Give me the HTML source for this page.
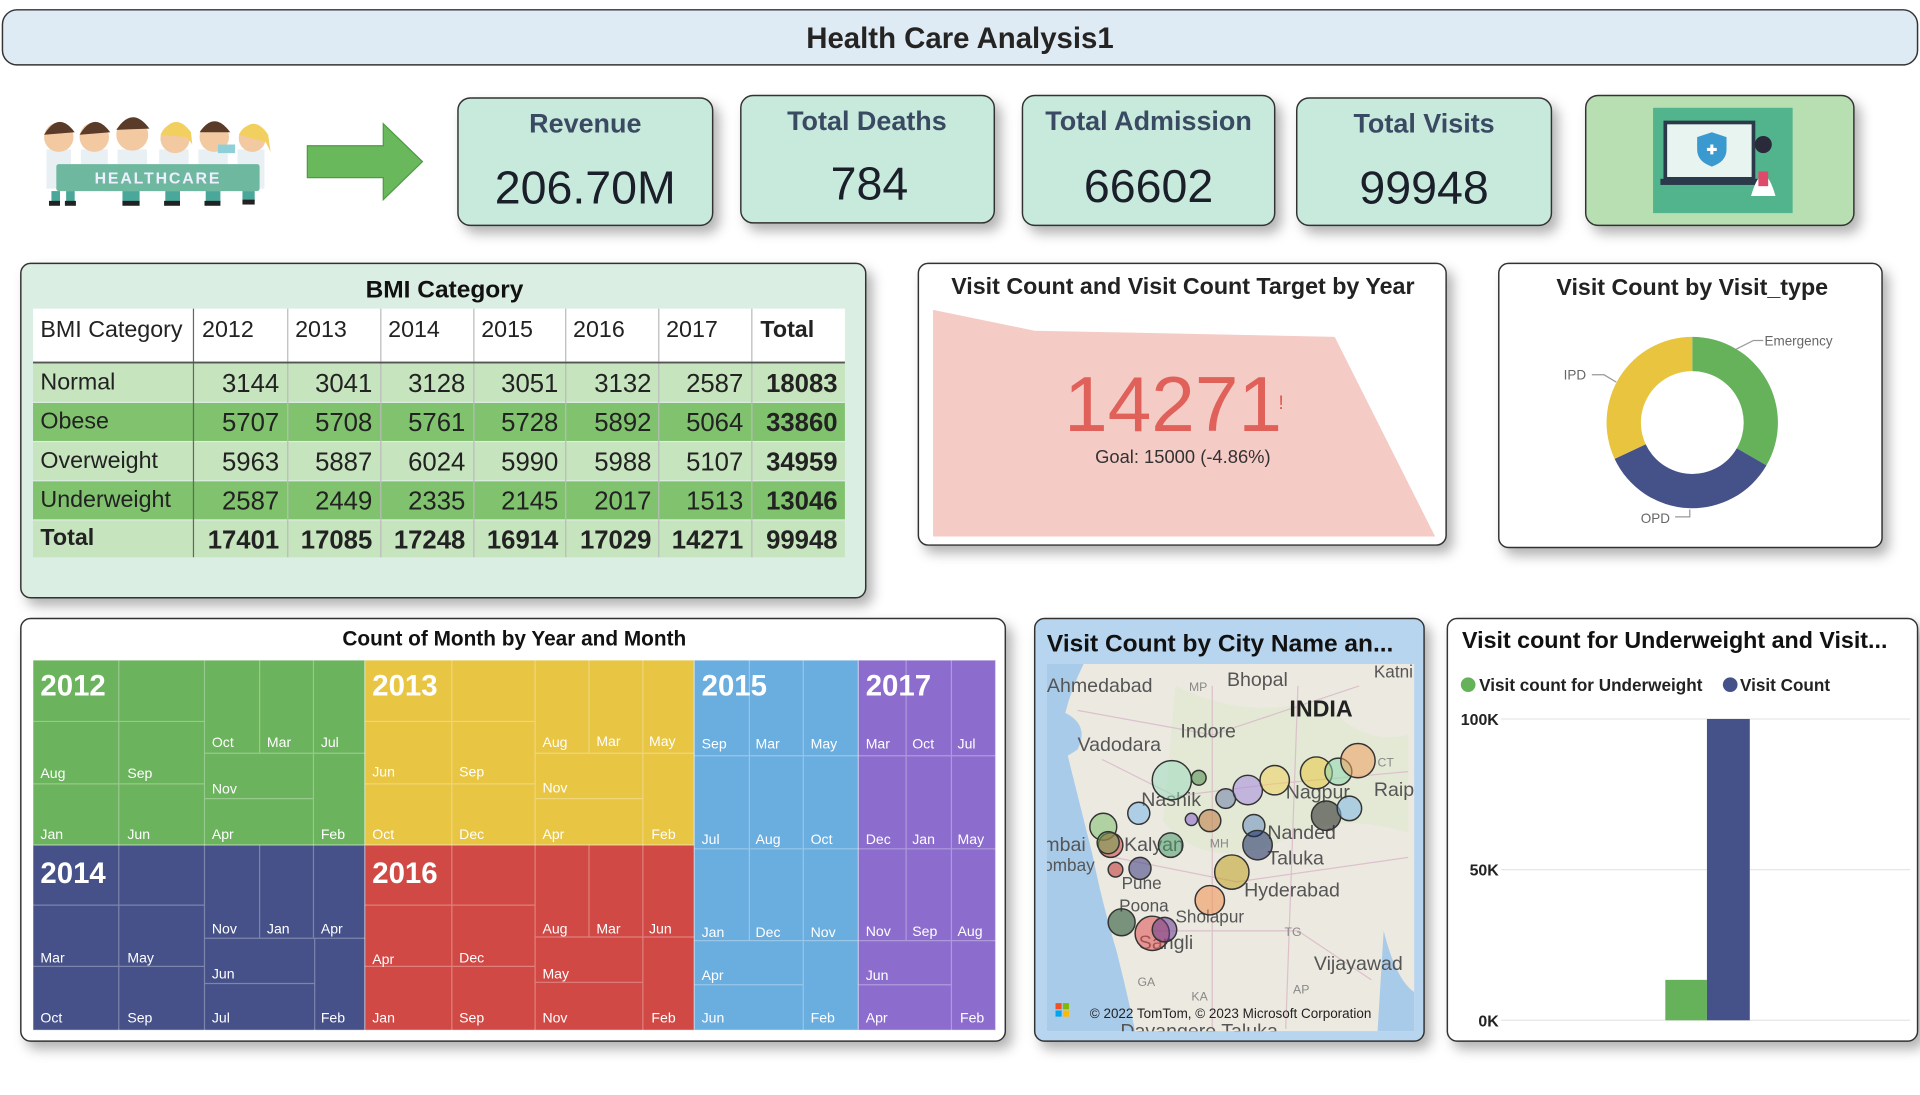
<!DOCTYPE html>
<html><head><meta charset="utf-8"><style>
html,body{margin:0;padding:0;background:#fff;width:1920px;height:1095px;overflow:hidden}
svg text{font-family:"Liberation Sans",sans-serif}
</style></head><body>
<svg width="1920" height="1095" viewBox="0 0 1568 894" preserveAspectRatio="none" xmlns="http://www.w3.org/2000/svg">
<defs>
<filter id="sh" x="-10%" y="-10%" width="130%" height="140%"><feDropShadow dx="5" dy="6" stdDeviation="5" flood-color="#000" flood-opacity="0.3"/></filter>
<clipPath id="mapc"><rect x="855" y="542" width="300" height="300"/></clipPath>
</defs>
<!-- title -->
<rect x="2" y="8" width="1564" height="45" rx="12" fill="#deeaf4" stroke="#333" stroke-width="1.2"/>
<text x="784" y="39" text-anchor="middle" font-size="24" font-weight="bold" fill="#252423">Health Care Analysis1</text>

<!-- healthcare image -->
<g>
<g fill="#e8f0f4"><rect x="38" y="122" width="20" height="32"/><rect x="66" y="122" width="22" height="32"/><rect x="96" y="122" width="24" height="32"/><rect x="130" y="122" width="24" height="32"/><rect x="162" y="122" width="24" height="32"/><rect x="194" y="122" width="22" height="32"/></g>
<g fill="#f2c9a0">
<circle cx="48" cy="112" r="12"/><circle cx="77" cy="112" r="12"/><circle cx="108" cy="110" r="13"/><circle cx="143" cy="113" r="12"/><circle cx="175" cy="112" r="12"/><circle cx="206" cy="113" r="11"/>
</g>
<path d="M36 110 q12-20 25 -2z M65 110 q12-20 25 -2z M95 106 q13-20 27 -1z M163 108 q12-18 25 0z" fill="#5a3a28"/>
<path d="M131 110 q12-20 25 -2l1 10 -4-6z M195 110 q12-18 24 0 l2 14 -4-8z" fill="#f2d060"/>
<rect x="178" y="118" width="14" height="7" fill="#8fd0d8"/>
<rect x="46" y="134" width="166" height="22" fill="#6fb8a0" rx="2"/>
<text x="129" y="150" text-anchor="middle" font-size="13" font-weight="bold" fill="#eef" letter-spacing="1.5">HEALTHCARE</text>
<g fill="#4aa89a"><rect x="42" y="156" width="7" height="10"/><rect x="54" y="156" width="7" height="10"/><rect x="100" y="156" width="14" height="10"/><rect x="135" y="156" width="12" height="10"/><rect x="168" y="156" width="12" height="10"/><rect x="198" y="156" width="10" height="8"/></g>
<g fill="#222"><rect x="40" y="164" width="9" height="4"/><rect x="53" y="164" width="9" height="4"/><rect x="100" y="164" width="14" height="4"/><rect x="134" y="164" width="13" height="4"/><rect x="167" y="164" width="13" height="4"/><rect x="198" y="163" width="10" height="4"/></g>
</g>
<!-- arrow -->
<polygon points="251,119 313,119 313,101 345,132 313,163 313,145 251,145" fill="#6ab85c" stroke="#4e9a44" stroke-width="1"/>

<!-- KPI cards -->
<g filter="url(#sh)" stroke="#333" stroke-width="1.2" fill="#c8eadc">
<rect x="374" y="80" width="208" height="104" rx="10"/>
<rect x="605" y="78" width="207" height="104" rx="10"/>
<rect x="835" y="78" width="206" height="106" rx="10"/>
<rect x="1059" y="80" width="208" height="104" rx="10"/>
<rect x="1295" y="78" width="219" height="106" rx="10" fill="#b8dfb2"/>
</g>
<g font-size="22" font-weight="bold" fill="#3a4a63" text-anchor="middle">
<text x="478" y="108">Revenue</text><text x="708" y="106">Total Deaths</text><text x="938" y="106">Total Admission</text><text x="1163" y="108">Total Visits</text>
</g>
<g font-size="38" fill="#1a1f2a" text-anchor="middle">
<text x="478" y="166">206.70M</text><text x="710" y="163">784</text><text x="938" y="165">66602</text><text x="1163" y="166">99948</text>
</g>
<rect x="1350" y="88" width="114" height="86" fill="#52b48c"/>
<rect x="1360" y="100" width="72" height="46" fill="#e8f4f0" stroke="#2a3a4a" stroke-width="3"/>
<rect x="1356" y="146" width="80" height="5" fill="#2a3a4a"/>
<path d="M1398 108 l12 4 v10 q0 10 -12 14 q-12-4 -12-14 v-10z" fill="#3a9ad0"/>
<path d="M1394 122 h8 M1398 118 v8" stroke="#fff" stroke-width="2.5"/>
<circle cx="1440" cy="118" r="7" fill="#2a2a3a"/><path d="M1430 160 q10-34 20 0z" fill="#fff"/><rect x="1436" y="140" width="8" height="12" fill="#e04a6a"/>

<!-- BMI card -->
<rect x="17" y="215" width="690" height="273" rx="8" fill="#dbeee4" stroke="#333" stroke-width="1.2" filter="url(#sh)"/>
<text x="363" y="243" text-anchor="middle" font-size="20" font-weight="bold" fill="#111">BMI Category</text>
<rect x="27" y="252" width="663" height="43" fill="#fff"/>
<rect x="27" y="297" width="663" height="31" fill="#c6e4bd"/>
<rect x="27" y="329" width="663" height="31" fill="#80c26e"/>
<rect x="27" y="361" width="663" height="31" fill="#c6e4bd"/>
<rect x="27" y="393" width="663" height="31" fill="#80c26e"/>
<rect x="27" y="425" width="663" height="30" fill="#c6e4bd"/>
<g stroke="#bbb" stroke-width="1">
<line x1="235" y1="252" x2="235" y2="455"/><line x1="311" y1="252" x2="311" y2="455"/><line x1="387" y1="252" x2="387" y2="455"/><line x1="462" y1="252" x2="462" y2="455"/><line x1="538" y1="252" x2="538" y2="455"/><line x1="614" y1="252" x2="614" y2="455"/>
</g>
<line x1="158" y1="252" x2="158" y2="455" stroke="#666"/>
<line x1="27" y1="296" x2="690" y2="296" stroke="#555" stroke-width="1.5"/>
<g font-size="19" fill="#222">
<text x="33" y="275">BMI Category</text><text x="165" y="275">2012</text><text x="241" y="275">2013</text><text x="317" y="275">2014</text><text x="393" y="275">2015</text><text x="468" y="275">2016</text><text x="544" y="275">2017</text><text x="621" y="275" font-weight="bold">Total</text>
<text x="33" y="318">Normal</text><text x="33" y="350">Obese</text><text x="33" y="382">Overweight</text><text x="33" y="414">Underweight</text><text x="33" y="445" font-weight="bold">Total</text>
</g>
<g font-size="21" fill="#222" text-anchor="end">
<text x="228" y="320">3144</text><text x="304" y="320">3041</text><text x="380" y="320">3128</text><text x="456" y="320">3051</text><text x="532" y="320">3132</text><text x="607" y="320">2587</text><text x="684" y="320" font-weight="bold">18083</text>
<text x="228" y="352">5707</text><text x="304" y="352">5708</text><text x="380" y="352">5761</text><text x="456" y="352">5728</text><text x="532" y="352">5892</text><text x="607" y="352">5064</text><text x="684" y="352" font-weight="bold">33860</text>
<text x="228" y="384">5963</text><text x="304" y="384">5887</text><text x="380" y="384">6024</text><text x="456" y="384">5990</text><text x="532" y="384">5988</text><text x="607" y="384">5107</text><text x="684" y="384" font-weight="bold">34959</text>
<text x="228" y="416">2587</text><text x="304" y="416">2449</text><text x="380" y="416">2335</text><text x="456" y="416">2145</text><text x="532" y="416">2017</text><text x="607" y="416">1513</text><text x="684" y="416" font-weight="bold">13046</text>
<g font-weight="bold"><text x="228" y="448">17401</text><text x="304" y="448">17085</text><text x="380" y="448">17248</text><text x="456" y="448">16914</text><text x="532" y="448">17029</text><text x="607" y="448">14271</text><text x="684" y="448">99948</text></g>
</g>

<!-- target card -->
<rect x="750" y="215" width="431" height="230" rx="8" fill="#fff" stroke="#333" stroke-width="1.2" filter="url(#sh)"/>
<text x="966" y="240" text-anchor="middle" font-size="19" font-weight="bold" fill="#222">Visit Count and Visit Count Target by Year</text>
<polygon points="762,253 845,270 1090,275 1172,438 762,438" fill="#f5cbc6"/>
<text x="958" y="352" text-anchor="middle" font-size="64" fill="#e0615a">14271</text>
<text x="1044" y="334" font-size="16" fill="#de5a52">!</text>
<text x="966" y="378" text-anchor="middle" font-size="15" fill="#333">Goal: 15000 (-4.86%)</text>

<!-- donut card -->
<rect x="1224" y="215" width="313" height="232" rx="8" fill="#fff" stroke="#333" stroke-width="1.2" filter="url(#sh)"/>
<text x="1382" y="241" text-anchor="middle" font-size="19" font-weight="bold" fill="#222">Visit Count by Visit_type</text>
<g transform="translate(1382,345)">
<path d="M0 -70 A70 70 0 0 1 60.6 35 L36.4 21 A42 42 0 0 0 0 -42Z" fill="#66b25a"/>
<path d="M60.6 35 A70 70 0 0 1 -63.4 29.6 L-38 17.7 A42 42 0 0 0 36.4 21Z" fill="#455189"/>
<path d="M-63.4 29.6 A70 70 0 0 1 0 -70 L0 -42 A42 42 0 0 0 -38 17.7Z" fill="#e8c43f"/>
</g>
<g stroke="#999" fill="none"><path d="M1418 285 l14 -7 h8"/><path d="M1300 306 h10 l10 6"/><path d="M1368 422 h12 v-6"/></g>
<g font-size="11" fill="#666"><text x="1441" y="282">Emergency</text><text x="1277" y="310">IPD</text><text x="1340" y="427">OPD</text></g>

<!-- treemap card -->
<rect x="17" y="505" width="804" height="345" rx="8" fill="#fff" stroke="#333" stroke-width="1.2" filter="url(#sh)"/>
<text x="420" y="527" text-anchor="middle" font-size="17" font-weight="bold" fill="#111">Count of Month by Year and Month</text>
<g stroke="#fff" stroke-opacity="0.35" stroke-width="1">
<rect x="27" y="539" width="271" height="151" fill="#6bb35c"/>
<rect x="298" y="539" width="269" height="151" fill="#e8c542"/>
<rect x="27" y="690" width="271" height="151" fill="#455188"/>
<rect x="298" y="690" width="269" height="151" fill="#d14945"/>
<rect x="567" y="539" width="134" height="302" fill="#6aaee0"/>
<rect x="701" y="539" width="112" height="302" fill="#8c6dcd"/>
</g>
<g stroke="#fff" stroke-opacity="0.3" stroke-width="1" fill="none">
<path d="M97 539V690M167 539V690M27 589H167M27 640H167M212 539V615M256 539V690M167 615H298M167 652H256"/>
<path d="M97 690V841M167 690V841M27 739H167M27 789H167M212 690V766M256 690V766M167 766H298M167 803H257M257 766V841"/>
<path d="M369 539V690M437 539V690M298 589H437M298 640H437M481 539V615M525 539V690M437 615H567M437 652H525"/>
<path d="M369 690V841M437 690V841M298 739H437M298 789H437M481 690V765M525 690V841M437 765H567M437 802H525"/>
<path d="M612 539V768M656 539V841M567 617H701M567 693H701M567 768H701M567 804H656"/>
<path d="M740 539V768M777 539V841M701 617H813M701 693H813M701 768H813M701 804H777"/>
</g>
<g font-size="24" font-weight="bold" fill="#fff"><text x="33" y="568">2012</text><text x="304" y="568">2013</text><text x="33" y="721">2014</text><text x="304" y="721">2016</text><text x="573" y="568">2015</text><text x="707" y="568">2017</text></g>
<g font-size="11.5" fill="#fff">
<text x="33" y="635">Aug</text><text x="104" y="635">Sep</text><text x="33" y="685">Jan</text><text x="104" y="685">Jun</text><text x="173" y="610">Oct</text><text x="218" y="610">Mar</text><text x="262" y="610">Jul</text><text x="173" y="648">Nov</text><text x="173" y="685">Apr</text><text x="262" y="685">Feb</text>
<text x="304" y="634">Jun</text><text x="375" y="634">Sep</text><text x="304" y="685">Oct</text><text x="375" y="685">Dec</text><text x="443" y="610">Aug</text><text x="487" y="609">Mar</text><text x="530" y="609">May</text><text x="443" y="647">Nov</text><text x="443" y="685">Apr</text><text x="532" y="685">Feb</text>
<text x="33" y="786">Mar</text><text x="104" y="786">May</text><text x="33" y="835">Oct</text><text x="104" y="835">Sep</text><text x="173" y="762">Nov</text><text x="218" y="762">Jan</text><text x="262" y="762">Apr</text><text x="173" y="799">Jun</text><text x="173" y="835">Jul</text><text x="262" y="835">Feb</text>
<text x="304" y="787">Apr</text><text x="375" y="786">Dec</text><text x="304" y="835">Jan</text><text x="375" y="835">Sep</text><text x="443" y="762">Aug</text><text x="487" y="762">Mar</text><text x="530" y="762">Jun</text><text x="443" y="799">May</text><text x="443" y="835">Nov</text><text x="532" y="835">Feb</text>
<text x="573" y="611">Sep</text><text x="617" y="611">Mar</text><text x="662" y="611">May</text><text x="573" y="689">Jul</text><text x="617" y="689">Aug</text><text x="662" y="689">Oct</text><text x="573" y="765">Jan</text><text x="617" y="765">Dec</text><text x="662" y="765">Nov</text><text x="573" y="800">Apr</text><text x="573" y="835">Jun</text><text x="662" y="835">Feb</text>
<text x="707" y="611">Mar</text><text x="745" y="611">Oct</text><text x="782" y="611">Jul</text><text x="707" y="689">Dec</text><text x="745" y="689">Jan</text><text x="782" y="689">May</text><text x="707" y="764">Nov</text><text x="745" y="764">Sep</text><text x="782" y="764">Aug</text><text x="707" y="800">Jun</text><text x="707" y="835">Apr</text><text x="784" y="835">Feb</text>
</g>

<!-- map card -->
<rect x="845" y="505" width="318" height="345" rx="8" fill="#b7d5ef" stroke="#333" stroke-width="1.2" filter="url(#sh)"/>
<text x="855" y="532" font-size="20" font-weight="bold" fill="#111">Visit Count by City Name an...</text>
<g clip-path="url(#mapc)">
<rect x="855" y="542" width="300" height="300" fill="#ece9e0"/>
<path d="M960 560 q60 30 120 10 q30 40 70 30 v80 q-60 -20 -110 10 q-60 20 -90 -20z" fill="#dfe8d0" opacity="0.7"/>
<path d="M855 542 h30 q-10 20 -15 40 q20 10 10 30 l-8 5 q10 40 20 80 q8 40 20 80 q10 40 15 65 H855Z" fill="#a9cbea"/>
<path d="M1130 760 q10 40 25 50 V842 h-30z" fill="#a9cbea"/>
<g stroke="#d9b7c8" stroke-width="1" fill="none" opacity="0.8">
<path d="M880 580 L990 600 L1110 560"/><path d="M900 620 L960 650 L1040 640 L1150 630"/><path d="M910 700 L1010 720 L1150 700"/><path d="M940 760 L1060 760 L1120 800"/><path d="M990 560 L990 840"/><path d="M1060 560 L1050 840"/>
</g>
<g font-size="16" fill="#555">
<text x="855" y="565">Ahmedabad</text><text x="1002" y="560">Bhopal</text><text x="1122" y="553" font-size="14">Katni</text><text x="964" y="602">Indore</text><text x="880" y="613">Vadodara</text><text x="932" y="658">Nashik</text><text x="1050" y="652">Nagpur</text><text x="1122" y="650">Raip</text><text x="1035" y="685">Nanded</text><text x="918" y="695">Kalyan</text><text x="852" y="695">mbai</text><text x="852" y="711" font-size="14">ombay</text><text x="1035" y="706">Taluka</text><text x="916" y="726" font-size="14">Pune</text><text x="1016" y="732">Hyderabad</text><text x="914" y="744" font-size="14">Poona</text><text x="960" y="753" font-size="14">Sholapur</text><text x="930" y="775">Sangli</text><text x="1073" y="792">Vijayawad</text><text x="915" y="847">Davangere Taluka</text>
</g>
<text x="1053" y="585" font-size="19" font-weight="bold" fill="#222">INDIA</text>
<g font-size="10" fill="#888"><text x="971" y="564">MP</text><text x="988" y="692">MH</text><text x="1049" y="764">TG</text><text x="929" y="805">GA</text><text x="1056" y="811">AP</text><text x="973" y="817">KA</text><text x="1125" y="626">CT</text></g>
<g stroke="#333" stroke-width="1.2" fill-opacity="0.55">
<circle cx="957" cy="637" r="16" fill="#9fdcc0"/><circle cx="979" cy="635" r="6" fill="#4a8a4a"/><circle cx="1001" cy="652" r="8" fill="#7080a8"/><circle cx="1019" cy="645" r="12" fill="#a88ae0"/><circle cx="1041" cy="637" r="12" fill="#f0d060"/><circle cx="1075" cy="631" r="13" fill="#e8c840"/><circle cx="1093" cy="630" r="11" fill="#8fd8b0"/><circle cx="1109" cy="621" r="14" fill="#f0a060"/>
<circle cx="930" cy="664" r="9" fill="#7ab8e8"/><circle cx="973" cy="669" r="5" fill="#8a60d0"/><circle cx="988" cy="670" r="9" fill="#c07840"/><circle cx="1024" cy="674" r="9" fill="#6a90c0"/><circle cx="1083" cy="666" r="12" fill="#222"/><circle cx="1102" cy="660" r="10" fill="#80b8e8"/>
<circle cx="901" cy="675" r="11" fill="#80c070"/><circle cx="907" cy="690" r="10" fill="#d04040"/><circle cx="905" cy="688" r="9" fill="#70a050"/><circle cx="956" cy="690" r="10" fill="#4a9a6a"/><circle cx="1027" cy="690" r="12" fill="#1a2a60"/>
<circle cx="911" cy="710" r="6" fill="#c03030"/><circle cx="931" cy="709" r="9" fill="#3a3a80"/><circle cx="1006" cy="712" r="14" fill="#c0a020"/><circle cx="988" cy="735" r="12" fill="#f09050"/><circle cx="916" cy="753" r="11" fill="#1a4a2a"/><circle cx="941" cy="762" r="14" fill="#e05050"/><circle cx="951" cy="759" r="10" fill="#6a3a90"/>
</g>
<rect x="862" y="819" width="5" height="5" fill="#f25022"/><rect x="868" y="819" width="5" height="5" fill="#7fba00"/><rect x="862" y="825" width="5" height="5" fill="#00a4ef"/><rect x="868" y="825" width="5" height="5" fill="#ffb900"/>
<text x="890" y="831" font-size="11" fill="#222">© 2022 TomTom, © 2023 Microsoft Corporation</text>
</g>

<!-- bar card -->
<rect x="1182" y="505" width="384" height="345" rx="8" fill="#fff" stroke="#333" stroke-width="1.2" filter="url(#sh)"/>
<text x="1194" y="529" font-size="19" font-weight="bold" fill="#111">Visit count for Underweight and Visit...</text>
<circle cx="1199" cy="559" r="6" fill="#66b25a"/><text x="1208" y="564" font-size="14" font-weight="bold" fill="#222">Visit count for Underweight</text>
<circle cx="1413" cy="559" r="6" fill="#455189"/><text x="1421" y="564" font-size="14" font-weight="bold" fill="#222">Visit Count</text>
<g stroke="#e6e6e6"><line x1="1226" y1="587" x2="1560" y2="587"/><line x1="1226" y1="710" x2="1560" y2="710"/><line x1="1226" y1="833" x2="1560" y2="833"/></g>
<g font-size="13" font-weight="bold" fill="#222" text-anchor="end"><text x="1224" y="592">100K</text><text x="1224" y="715">50K</text><text x="1224" y="838">0K</text></g>
<rect x="1360" y="800" width="34" height="33" fill="#66b25a"/>
<rect x="1394" y="587" width="35" height="246" fill="#455189"/>
</svg>
</body></html>
